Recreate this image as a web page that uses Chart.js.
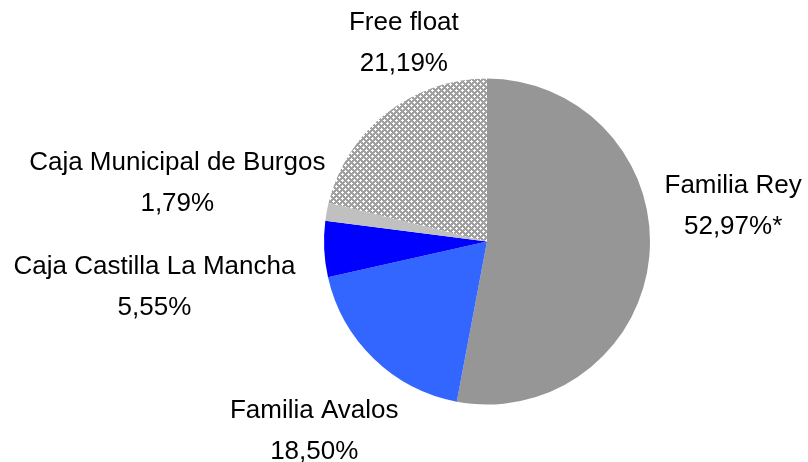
<!DOCTYPE html>
<html>
<head>
<meta charset="utf-8">
<script src="https://cdn.jsdelivr.net/npm/chart.js@4/dist/chart.umd.min.js"></script>
<style>
  html, body { margin: 0; padding: 0; background: #fff; }
  #wrap { width: 808px; height: 462px; position: relative; }
</style>
</head>
<body>
<div id="wrap"><canvas id="pie"></canvas></div>
<script>
// datos del accionariado
const labels = ['Familia Rey', 'Familia Avalos', 'Caja Castilla La Mancha', 'Caja Municipal de Burgos', 'Free float'];
const shares = [52.97, 18.50, 5.55, 1.79, 21.19];
const notes  = ['*', '', '', '', ''];

// posicion de las etiquetas, en radios desde el centro del pie
const lblX = [1.51, -1.06, -2.04, -1.90, -0.51];
const lblY = [-0.22, 1.16, 0.28, -0.36, -1.22];

// trama cuadriculada del free float
function hatch() {
  const c = document.createElement('canvas');
  c.width = 6; c.height = 6;
  const g = c.getContext('2d');
  g.fillStyle = '#a0a0a0'; g.fillRect(0, 0, 6, 6);
  g.fillStyle = '#ffffff';
  for (let y = 0; y < 6; y++) for (let x = 0; x < 6; x++) {
    const d1 = Math.abs(x - 3) + Math.abs(y - 3);
    const dx = Math.min(x, 6 - x), dy = Math.min(y, 6 - y);
    if (d1 <= 1 || dx + dy <= 1) g.fillRect(x, y, 1, 1);
  }
  return g.createPattern(c, 'repeat');
}

const colors = ['#969696', '#3366FF', '#0000FF', '#C0C0C0', hatch()];
const FONT = '26px "Liberation Sans", Arial, sans-serif';

const labelPlugin = {
  id: 'pieLabels',
  afterDraw(chart) {
    const ctx = chart.ctx;
    const arcs = chart.getDatasetMeta(0).data;
    ctx.save();
    ctx.font = FONT;
    ctx.fillStyle = '#000';
    ctx.textAlign = 'center';
    ctx.textBaseline = 'middle';
    arcs.forEach((a, i) => {
      const r = a.outerRadius;
      const x = a.x + lblX[i] * r, y = a.y + lblY[i] * r;
      ctx.fillText(labels[i], x, y - 20);
      ctx.fillText(shares[i].toFixed(2).replace('.', ',') + '%' + notes[i], x, y + 21);
    });
    ctx.restore();
  }
};

new Chart(document.getElementById('pie'), {
  type: 'pie',
  data: {
    labels,
    datasets: [{ data: shares, backgroundColor: colors, borderWidth: 0 }]
  },
  options: {
    responsive: true, maintainAspectRatio: false, animation: false,
    layout: { padding: { left: 324, right: 158, top: 78, bottom: 57 } },
    plugins: { legend: { display: false }, tooltip: { enabled: false } }
  },
  plugins: [labelPlugin]
});
</script>
</body>
</html>
